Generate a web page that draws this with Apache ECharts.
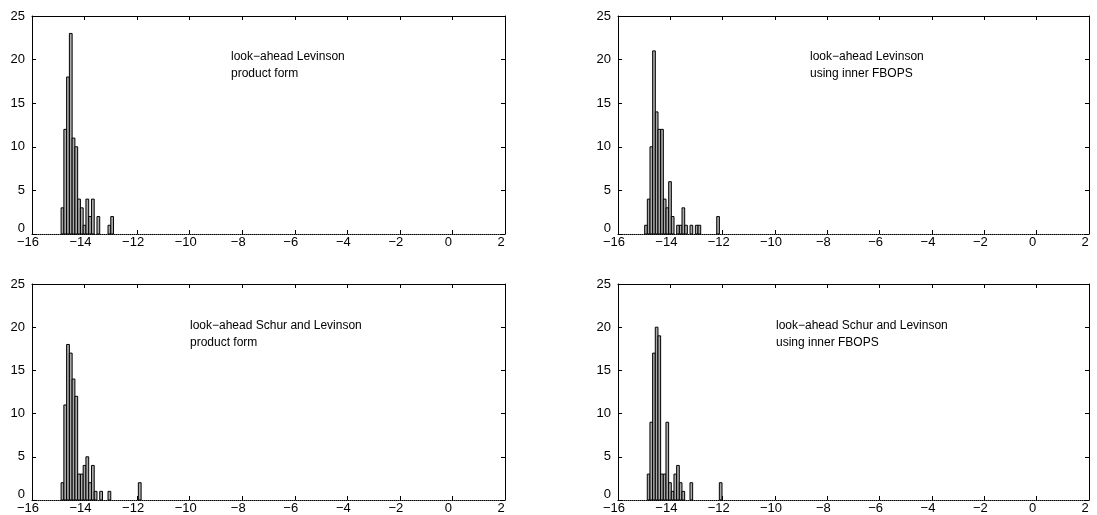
<!DOCTYPE html>
<html><head><meta charset="utf-8">
<script src="https://cdn.jsdelivr.net/npm/echarts@6/dist/echarts.min.js"></script>
<style>html,body{margin:0;padding:0;background:#fff}#c{width:1097px;height:515px}</style>
</head><body><div id="c"></div>
<script>
// ---- data ----
const xMin = -16, xMax = 2, xStep = 2;
const yMin = 0, yMax = 25, yStep = 5;

// top-left: look-ahead Levinson, product form
const tlCenters = [-14.840,-14.735,-14.630,-14.525,-14.420,-14.315,-14.210,-14.105,-14.000,-13.895,-13.790,-13.685,-13.475,-13.055,-12.950];
const tlCounts  = [3,12,18,23,11,10,4,3,1,4,2,4,2,1,2];
const tlBin = 0.105;

// top-right: look-ahead Levinson, using inner FBOPS
const trCenters = [-14.930,-14.828,-14.726,-14.624,-14.522,-14.420,-14.318,-14.216,-14.114,-14.012,-13.910,-13.706,-13.604,-13.502,-13.400,-13.196,-12.992,-12.890,-12.176];
const trCounts  = [1,4,10,21,14,12,12,4,3,6,2,1,1,3,1,1,1,1,2];
const trBin = 0.102;

// bottom-left: look-ahead Schur and Levinson, product form
const blCenters = [-14.840,-14.735,-14.630,-14.525,-14.420,-14.315,-14.210,-14.105,-14.000,-13.895,-13.790,-13.685,-13.580,-13.370,-13.055,-11.900];
const blCounts  = [2,11,18,17,14,12,3,3,4,5,2,4,1,1,1,2];
const blBin = 0.105;

// bottom-right: look-ahead Schur and Levinson, using inner FBOPS
const brCenters = [-14.830,-14.728,-14.626,-14.524,-14.422,-14.320,-14.218,-14.116,-14.014,-13.912,-13.810,-13.708,-13.606,-13.504,-13.198,-12.076];
const brCounts  = [3,9,17,20,19,3,3,9,2,1,3,4,2,1,2,2];
const brBin = 0.102;

const titles = [
  'look\u2212ahead Levinson\nproduct form',
  'look\u2212ahead Levinson\nusing inner FBOPS',
  'look\u2212ahead Schur and Levinson\nproduct form',
  'look\u2212ahead Schur and Levinson\nusing inner FBOPS'
];

// ---- layout ----
const FONT = '"Liberation Sans", Arial, Helvetica, sans-serif';
const grids = [
  {left: 32,  top: 16,  width: 473, height: 218},
  {left: 618, top: 16,  width: 471, height: 218},
  {left: 32,  top: 284, width: 473, height: 218},
  {left: 618, top: 284, width: 471, height: 218}
];
const titlePos = [
  {left: 231, top: 48},
  {left: 810, top: 48},
  {left: 190, top: 317},
  {left: 776, top: 317}
];
const panels = [
  {c: tlCenters, n: tlCounts, w: tlBin},
  {c: trCenters, n: trCounts, w: trBin},
  {c: blCenters, n: blCounts, w: blBin},
  {c: brCenters, n: brCounts, w: brBin}
];

function fmtX(v){ return v < 0 ? '{m|\u2212' + Math.abs(v) + '}' : '{m|' + v + '}'; }
function fmtY(v){ return v === 0 ? '{z|0}' : '{m|' + v + '}'; }
const labelStyle = {color: '#000', fontSize: 13, fontFamily: FONT};

const xAxes = [], yAxes = [], series = [], title = [];
panels.forEach((p, k) => {
  xAxes.push({
    gridIndex: k, type: 'value', min: xMin, max: xMax, interval: xStep, position: 'bottom',
    axisLine: {show: true, lineStyle: {color: '#000', width: 1, type: 'dotted'}},
    axisTick: {show: true, inside: true, length: 4, lineStyle: {color: '#000'}},
    axisLabel: {show: true, margin: 2, formatter: fmtX,
      rich: {m: Object.assign({padding: [0, 8, 0, 0]}, labelStyle)}},
    splitLine: {show: false}
  });
  xAxes.push({
    gridIndex: k, type: 'value', min: xMin, max: xMax, interval: xStep, position: 'top',
    axisLine: {show: true, onZero: false, lineStyle: {color: '#000', width: 1}},
    axisTick: {show: true, inside: true, length: 4, lineStyle: {color: '#000'}},
    axisLabel: {show: false}, splitLine: {show: false}
  });
  yAxes.push({
    gridIndex: k, type: 'value', min: yMin, max: yMax, interval: yStep, position: 'left',
    axisLine: {show: true, onZero: false, lineStyle: {color: '#000', width: 1}},
    axisTick: {show: true, inside: true, length: 4, lineStyle: {color: '#000'}},
    axisLabel: {show: true, margin: 7, formatter: fmtY,
      rich: {m: labelStyle, z: Object.assign({padding: [0, 0, 11, 0]}, labelStyle)}},
    splitLine: {show: false}
  });
  yAxes.push({
    gridIndex: k, type: 'value', min: yMin, max: yMax, interval: yStep, position: 'right',
    axisLine: {show: true, onZero: false, lineStyle: {color: '#000', width: 1}},
    axisTick: {show: true, inside: true, length: 4, lineStyle: {color: '#000'}},
    axisLabel: {show: false}, splitLine: {show: false}
  });
  const w = p.w;
  series.push({
    type: 'custom', xAxisIndex: 2 * k, yAxisIndex: 2 * k,
    data: p.c.map((c, i) => [c, p.n[i]]),
    renderItem: function (params, api) {
      const x = api.value(0), cnt = api.value(1);
      const a = api.coord([x - w / 2, cnt]);
      const b = api.coord([x + w / 2, 0]);
      return {type: 'rect', shape: {x: a[0], y: a[1], width: b[0] - a[0], height: b[1] - a[1]},
              style: {fill: '#aaa', stroke: '#000', lineWidth: 1}};
    },
    silent: true, animation: false
  });
  title.push({
    text: titles[k], left: titlePos[k].left, top: titlePos[k].top, padding: 0,
    textStyle: {fontSize: 12, fontWeight: 'normal', color: '#000', fontFamily: FONT, lineHeight: 17}
  });
});

const chart = echarts.init(document.getElementById('c'), null, {renderer: 'canvas'});
chart.setOption({
  backgroundColor: '#fff',
  animation: false,
  title: title,
  grid: grids,
  xAxis: xAxes,
  yAxis: yAxes,
  series: series
});
</script>
</body></html>
